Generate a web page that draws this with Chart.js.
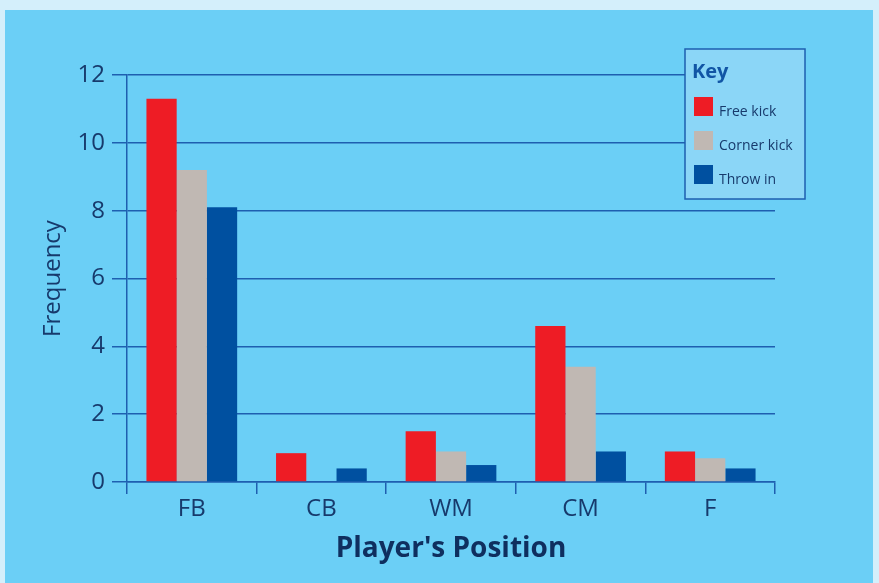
<!DOCTYPE html>
<html>
<head>
<meta charset="utf-8">
<script src="https://cdn.jsdelivr.net/npm/chart.js@4/dist/chart.umd.min.js"></script>
<style>
  html, body { margin: 0; padding: 0; }
  body { width: 879px; height: 583px; background: #d4effb; position: relative; overflow: hidden; }
  #wrap { position: absolute; left: 5px; top: 10px; width: 868px; height: 573px; background: #6bcff6; }
</style>
</head>
<body>
<div id="wrap"><canvas id="chart" width="868" height="573"></canvas></div>
<script>
const positions = ["FB", "CB", "WM", "CM", "F"];
const freeKick = [11.3, 0.85, 1.5, 4.6, 0.9];
const cornerKick = [9.2, 0, 0.9, 3.4, 0.7];
const throwIn = [8.1, 0.4, 0.5, 0.9, 0.4];

const TEXT = "#173a6c";
const LINE = "#1e5fb0";
const FONT = "'Open Sans', 'Noto Sans', sans-serif";

// key box drawn inside the chart, top right
const keyBox = {
  id: "keyBox",
  afterDraw(chart) {
    const c = chart.ctx;
    const x = 680, y = 39, w = 120, h = 150;
    c.save();
    c.fillStyle = "#8bd6f7";
    c.fillRect(x, y, w, h);
    c.strokeStyle = LINE;
    c.lineWidth = 1.5;
    c.strokeRect(x, y, w, h);
    c.fillStyle = "#1155a5";
    c.font = "bold 20px " + FONT;
    c.textBaseline = "middle";
    c.fillText("Key", x + 7, y + 23);
    c.font = "14px " + FONT;
    chart.data.datasets.forEach((ds, i) => {
      const yy = y + 60 + i * 34;
      c.fillStyle = ds.backgroundColor;
      c.fillRect(x + 9, yy - 12, 19, 19);
      c.fillStyle = TEXT;
      c.fillText(ds.label, x + 34, yy + 3);
    });
    c.restore();
  }
};

new Chart(document.getElementById("chart"), {
  type: "bar",
  data: {
    labels: positions,
    datasets: [
      { label: "Free kick", data: freeKick, backgroundColor: "#ee1c25" },
      { label: "Corner kick", data: cornerKick, backgroundColor: "#c0b8b3" },
      { label: "Throw in", data: throwIn, backgroundColor: "#0050a0" }
    ]
  },
  options: {
    responsive: false,
    animation: false,
    layout: { padding: { left: 0, right: 98, top: 65, bottom: 0 } },
    datasets: { bar: { categoryPercentage: 0.7, barPercentage: 1.0 } },
    plugins: { legend: { display: false }, tooltip: { enabled: false } },
    scales: {
      x: {
        afterFit: (s) => { s.height = 101; },
        grid: { offset: true, drawOnChartArea: false, drawTicks: true, tickLength: 12, color: LINE, lineWidth: 1.5 },
        border: { display: true, color: LINE, width: 1.5 },
        ticks: { color: TEXT, font: { family: FONT, size: 24 }, padding: 1 },
        title: { display: true, text: "Player's Position", color: "#0f2f5f", font: { family: FONT, size: 28, weight: "bold" }, padding: { top: 0, bottom: 17 } }
      },
      y: {
        min: 0,
        max: 12,
        afterFit: (s) => { s.width = 122; },
        grid: { color: LINE, lineWidth: 1.5, tickLength: 15 },
        border: { display: true, color: LINE, width: 1.5 },
        ticks: { stepSize: 2, color: TEXT, font: { family: FONT, size: 24 }, padding: 7 },
        title: { display: true, text: "Frequency", color: TEXT, font: { family: FONT, size: 24 }, padding: { top: 34, bottom: 0 } }
      }
    }
  },
  plugins: [keyBox]
});
</script>
</body>
</html>
